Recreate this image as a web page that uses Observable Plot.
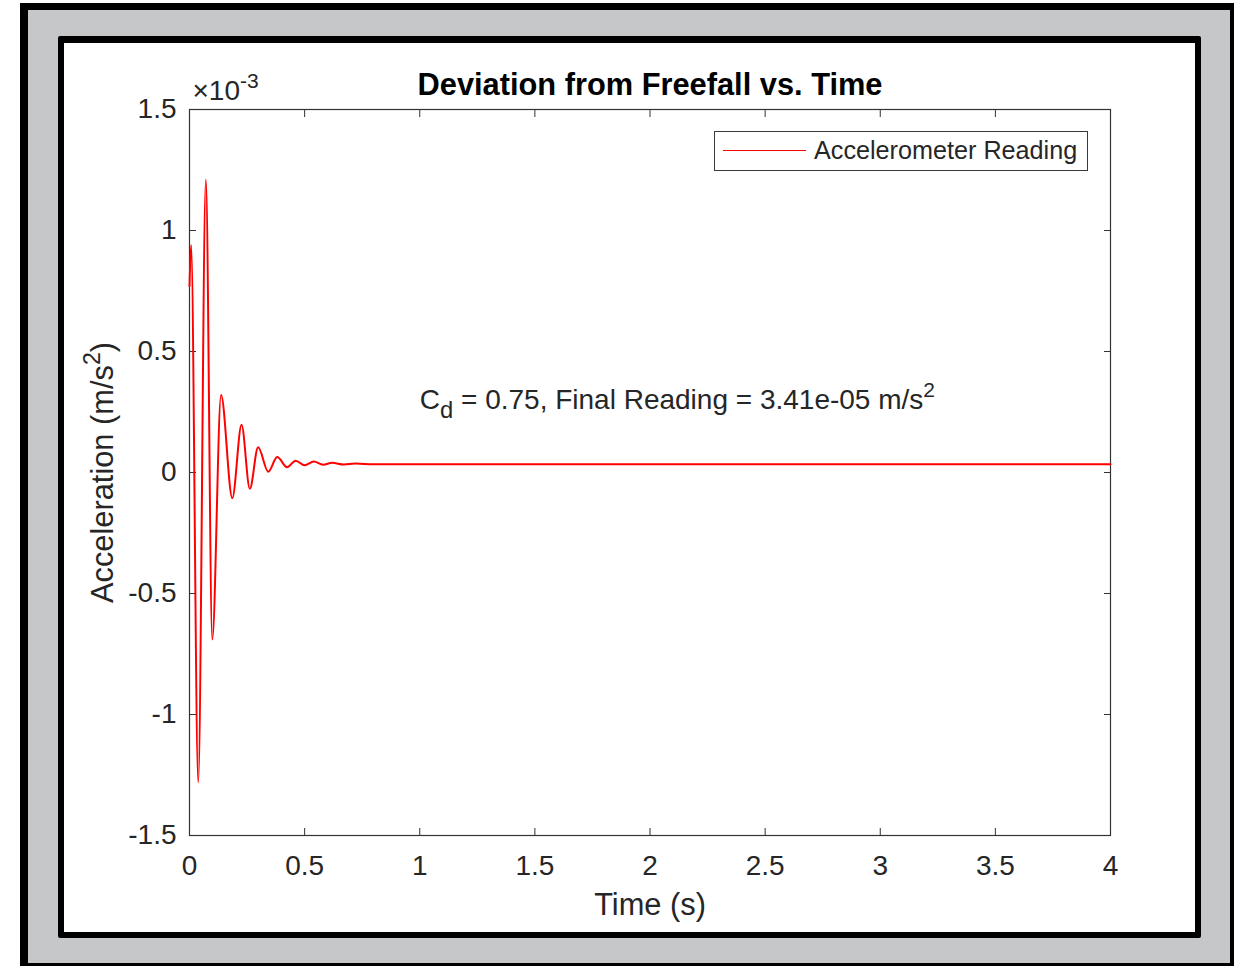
<!DOCTYPE html>
<html>
<head>
<meta charset="utf-8">
<script src="https://cdn.jsdelivr.net/npm/d3@7"></script>
<script src="https://cdn.jsdelivr.net/npm/@observablehq/plot@0.6"></script>
<style>
  html, body { margin: 0; padding: 0; background: #ffffff; overflow: hidden; width: 1234px; height: 966px; }
  body { position: relative; font-family: "Liberation Sans", Arial, sans-serif; }
  #outer { position: absolute; left: 20px; top: 3px; width: 1202px; height: 953px; border-style: solid; border-color: #000; border-width: 7px 8px 8px 8px; background: #c6c7c9; }
  #inner { position: absolute; left: 58px; top: 36px; width: 1131px; height: 889px; border-style: solid; border-color: #000; border-width: 7px 6px 6px 6px; background: #ffffff; border-radius: 2px; }
  #chart { position: absolute; left: 0; top: 0; }
  #legend { position: absolute; left: 650px; top: 88px; width: 374px; height: 40px; box-sizing: border-box; border: 1.5px solid #3a3a3a; background: #fff; }
  #legend .swatch { position: absolute; left: 8px; top: 18px; width: 83px; height: 0; border-top: 1.5px solid #ff0000; }
  #legend .lab { position: absolute; left: 99px; top: 0; line-height: 37px; font-size: 25.2px; color: #262626; white-space: nowrap; }
</style>
</head>
<body>
<div id="outer"></div>
<div id="inner">
  <div id="chart"></div>
  <div id="legend"><div class="swatch"></div><div class="lab" id="legendLabel"></div></div>
</div>
<script>
// ---- data (acceleration in units of 10^-3 m/s^2) ----
const time  = [0, 0.007, 0.038, 0.071, 0.099, 0.137, 0.186, 0.226, 0.262, 0.298, 0.342, 0.381, 0.424, 0.461, 0.500, 0.540, 0.580, 0.620, 0.670, 0.720, 0.800, 4.0];
const accel = [0.77, 0.94, -1.28, 1.21, -0.69, 0.32, -0.106, 0.197, -0.067, 0.104, 0.003, 0.064, 0.022, 0.049, 0.030, 0.045, 0.032, 0.040, 0.033, 0.037, 0.034, 0.0341];
const xTicks = [0, 0.5, 1, 1.5, 2, 2.5, 3, 3.5, 4];
const yTicks = [-1.5, -1, -0.5, 0, 0.5, 1, 1.5];
const xDomain = [0, 4];
const yDomain = [-1.5, 1.5];
const titleText = "Deviation from Freefall vs. Time";
const xLabel = "Time (s)";
const yLabel = "Acceleration (m/s^{2})";
const exponentLabel = "×10^{-3}";
const seriesName = "Accelerometer Reading";
const annotation = [{t: 1, v: 0.3, label: "C_{d} = 0.75, Final Reading = 3.41e-05 m/s^{2}"}];

const data = time.map((t, i) => ({t, v: accel[i]}));
const axisColor = "#262626";
const fmt = d => String(d);

const chart = Plot.plot({
  width: 1131,
  height: 889,
  marginTop: 66,
  marginRight: 85,
  marginBottom: 97,
  marginLeft: 125,
  style: { fontFamily: "'Liberation Sans', Arial, sans-serif", color: axisColor, background: "white", overflow: "visible" },
  x: { domain: xDomain, label: null },
  y: { domain: yDomain, label: null },
  marks: [
    Plot.frame({ stroke: "#333", strokeWidth: 1.2 }),
    // inward ticks on all four sides
    Plot.axisX({ anchor: "bottom", ticks: xTicks, tickSize: 7, dy: -7, tickFormat: () => "", label: null, stroke: "#333" }),
    Plot.axisX({ anchor: "top", ticks: xTicks, tickSize: 7, dy: 7, tickFormat: () => "", label: null, stroke: "#333" }),
    Plot.axisY({ anchor: "left", ticks: yTicks, tickSize: 7, dx: 7, tickFormat: () => "", label: null, stroke: "#333" }),
    Plot.axisY({ anchor: "right", ticks: yTicks, tickSize: 7, dx: -7, tickFormat: () => "", label: null, stroke: "#333" }),
    // tick labels
    Plot.axisX({ anchor: "bottom", ticks: xTicks, tickSize: 0, tickPadding: 20, tickFormat: fmt, fontSize: 28, label: null, fill: axisColor }),
    Plot.axisY({ anchor: "left", ticks: yTicks, tickSize: 0, tickPadding: 13, tickFormat: fmt, fontSize: 28, label: null, fill: axisColor }),
    // series
    Plot.line(data, { x: "t", y: "v", stroke: "#ff0000", strokeWidth: 2, curve: "monotone-x" }),
    // annotation
    Plot.text(annotation, { x: "t", y: "v", text: "label", textAnchor: "start", lineAnchor: "middle", fontSize: 28, fill: axisColor, letterSpacing: 0.25 }),
    // title and labels
    Plot.text([titleText], { frameAnchor: "top", dy: -24, textAnchor: "middle", lineAnchor: "middle", fontSize: 30.8, fontWeight: "bold", fill: "#000" }),
    Plot.text([exponentLabel], { frameAnchor: "top-left", dx: 3, dy: -18, textAnchor: "start", lineAnchor: "middle", fontSize: 28, fill: axisColor }),
    Plot.text([xLabel], { frameAnchor: "bottom", dy: 70, textAnchor: "middle", lineAnchor: "middle", fontSize: 30.8, fill: axisColor }),
    Plot.text([yLabel], { frameAnchor: "left", dx: -86, rotate: -90, textAnchor: "middle", lineAnchor: "middle", fontSize: 30.8, fill: axisColor })
  ]
});

// turn ^{..} and _{..} into raised / lowered tspans
function richify(el) {
  const s = el.textContent;
  if (!/[\^_]\{/.test(s)) return;
  const base = parseFloat(el.getAttribute("font-size") || el.parentNode.getAttribute("font-size") || 28);
  while (el.firstChild) el.removeChild(el.firstChild);
  const re = /([\^_])\{([^}]*)\}/g;
  let last = 0, m, pending = 0;
  const ns = "http://www.w3.org/2000/svg";
  const add = (txt, opts) => {
    const ts = document.createElementNS(ns, "tspan");
    ts.textContent = txt;
    if (opts.size) ts.setAttribute("font-size", opts.size);
    if (opts.dy) ts.setAttribute("dy", opts.dy);
    el.appendChild(ts);
  };
  while ((m = re.exec(s))) {
    if (m.index > last) { add(s.slice(last, m.index), { dy: pending }); pending = 0; }
    const sup = m[1] === "^";
    const shift = sup ? -0.43 * base : 0.34 * base;
    add(m[2], { size: (sup ? 0.75 : 0.85) * base, dy: pending + shift });
    pending = -shift;
    last = re.lastIndex;
  }
  if (last < s.length) add(s.slice(last), { dy: pending });
}
chart.querySelectorAll("text").forEach(richify);

document.getElementById("chart").appendChild(chart);
document.getElementById("legendLabel").textContent = seriesName;
</script>
</body>
</html>
